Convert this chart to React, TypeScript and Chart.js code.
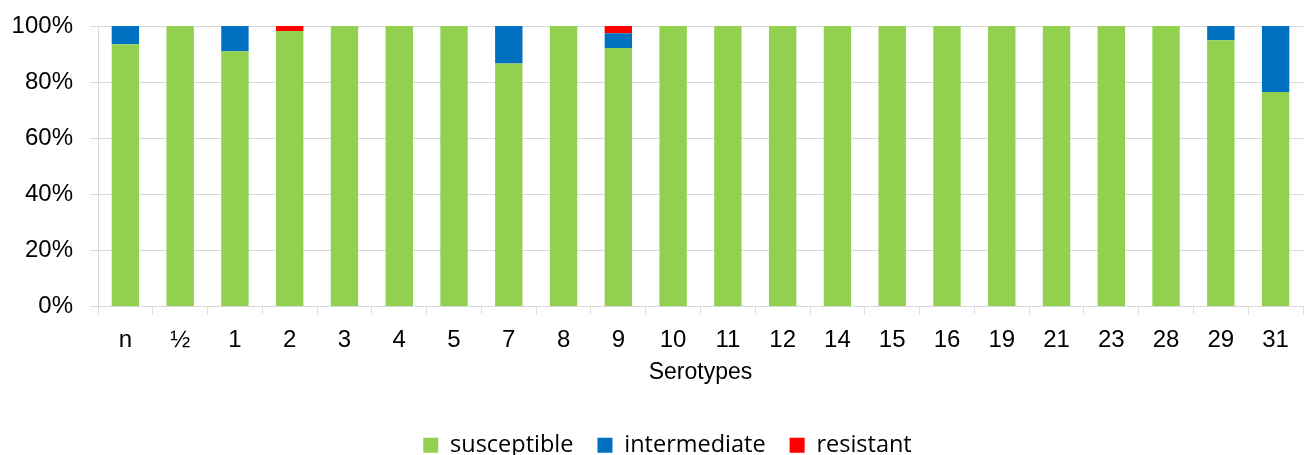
import React, { useEffect, useRef } from "react";
import { Chart, registerables } from "chart.js";

Chart.register(...registerables);

const categories = ["n", "½", "1", "2", "3", "4", "5", "7", "8", "9", "10", "11", "12", "14", "15", "16", "19", "21", "23", "28", "29", "31"];
const susceptible = [93.5, 100, 91.0, 98.2, 100, 100, 100, 86.6, 100, 92.2, 100, 100, 100, 100, 100, 100, 100, 100, 100, 100, 94.9, 76.5];
const intermediate = [6.5, 0, 9.0, 0, 0, 0, 0, 13.4, 0, 5.2, 0, 0, 0, 0, 0, 0, 0, 0, 0, 0, 5.1, 23.5];
const resistant = [0, 0, 0, 1.8, 0, 0, 0, 0, 0, 2.6, 0, 0, 0, 0, 0, 0, 0, 0, 0, 0, 0, 0];
const yTicks = [0, 20, 40, 60, 80, 100];

const legendShift = {
  id: "legendShift",
  afterLayout(chart: any) {
    const lg = chart.legend;
    if (lg) { lg.left += 16; lg.right += 16; }
  },
};

export default function App() {
  const ref = useRef<HTMLCanvasElement | null>(null);
  useEffect(() => {
    if (!ref.current) return;
    const grid = "#d9d9d9";
    const chart = new Chart(ref.current, {
      type: "bar",
      data: {
        labels: categories,
        datasets: [
          { label: "susceptible", data: susceptible, backgroundColor: "#92D050", barPercentage: 0.5, categoryPercentage: 1 },
          { label: "intermediate", data: intermediate, backgroundColor: "#0070C0", barPercentage: 0.5, categoryPercentage: 1 },
          { label: "resistant", data: resistant, backgroundColor: "#FF0000", barPercentage: 0.5, categoryPercentage: 1 },
        ],
      },
      plugins: [legendShift],
      options: {
        responsive: false,
        animation: false,
        maintainAspectRatio: false,
        layout: { padding: { top: 26, right: 3, left: 0, bottom: 0 } },
        plugins: {
          tooltip: { enabled: false },
          legend: {
            position: "bottom",
            labels: {
              font: { family: "'Open Sans'", size: 23.5 },
              color: "#000",
              boxWidth: 15,
              boxHeight: 15,
              padding: 24,
            },
          },
        },
        scales: {
          x: {
            stacked: true,
            afterFit: (s: any) => { s.height = 103; },
            grid: { offset: true, drawOnChartArea: false, drawTicks: true, tickLength: 8, color: grid },
            border: { color: grid },
            ticks: { font: { family: "'Liberation Sans'", size: 24 }, color: "#000", padding: 11, maxRotation: 0 },
            title: { display: true, text: "Serotypes", font: { family: "'Liberation Sans'", size: 23 }, color: "#000", padding: { top: 4, bottom: 23 } },
          },
          y: {
            stacked: true,
            min: 0,
            max: 100,
            afterFit: (s: any) => { s.width = 98; s.paddingTop = 0; s.paddingBottom = 0; },
            afterBuildTicks: (s: any) => { s.ticks = yTicks.map((v) => ({ value: v })); },
            grid: { color: grid, tickLength: 8, lineWidth: 1 },
            border: { color: grid },
            ticks: {
              font: { family: "'Liberation Sans'", size: 24 },
              color: "#000",
              padding: 17,
              callback: (v: any) => v + "%",
            },
          },
        },
      },
    });
    return () => chart.destroy();
  }, []);
  return (
    <div style={{ position: "fixed", left: 0, top: 0, width: 1306, height: 455, background: "#fff", overflow: "hidden" }}>
      <canvas ref={ref} width={1306} height={467} />
    </div>
  );
}
